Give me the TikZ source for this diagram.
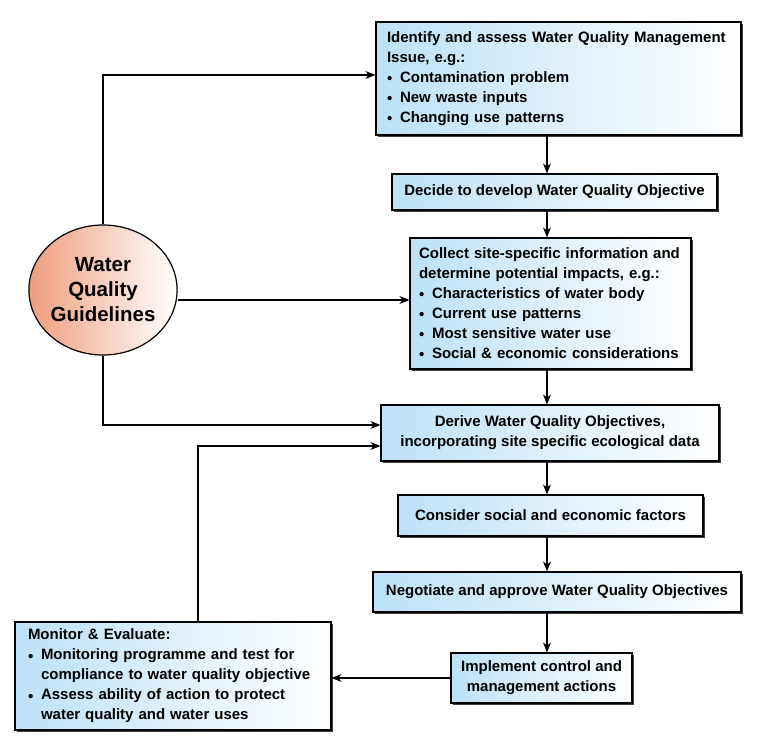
\documentclass[tikz,border=0pt]{standalone}
\usepackage{fontspec}
\setmainfont{Liberation Sans}
\usetikzlibrary{arrows.meta, shapes.geometric, shadows, calc}
\definecolor{boxblue}{RGB}{188,225,248}
\definecolor{salmon}{RGB}{238,158,126}
\newcommand{\wqfont}{\fontsize{15}{20}\selectfont\bfseries\hyphenpenalty=10000\relax}
\newcommand{\wqbul}{\makebox[13pt][l]{\raisebox{-1.5pt}{\textbullet}}}
\newcommand{\wqind}{\hspace*{13pt}}

\begin{document}
\begin{tikzpicture}[x=1pt, y=-1pt, >={Stealth[length=10pt,width=8pt]}, line width=1.1pt,
  sq node/.style={rectangle, draw, line width=1.2pt, left color=boxblue, right color=white,
    drop shadow={shadow xshift=2pt, shadow yshift=-2pt, fill=black!75, opacity=1},
    font=\wqfont, inner ysep=0pt},
  list node/.style={sq node, align=left},
  mid node/.style={sq node, align=center, inner xsep=0pt},
  main node/.style={ellipse, draw, line width=1.2pt, left color=salmon, right color=white,
    align=center, inner sep=0pt, font=\fontsize{20.5}{25}\selectfont\bfseries}]
  \useasboundingbox (0,0) rectangle (757,738);
  % boxes of the chain
  \node[list node, inner xsep=11pt, text width=343pt, minimum height=113pt] (identify) at (558.5,78.5)
    {Identify and assess Water Quality Management\\ Issue, e.g.:\\
     \wqbul Contamination problem\\
     \wqbul New waste inputs\\
     \wqbul Changing use patterns};
  \node[mid node, minimum width=325pt, minimum height=36pt] (decide) at (554.5,192)
    {Decide to develop Water Quality Objective};
  \node[list node, inner xsep=9pt, text width=263pt, minimum height=131pt] (collect) at (550.5,303.5)
    {Collect site-specific information and\\ determine potential impacts, e.g.:\\
     \wqbul Characteristics of water body\\
     \wqbul Current use patterns\\
     \wqbul Most sensitive water use\\
     \wqbul Social \& economic considerations};
  \node[mid node, minimum width=338pt, minimum height=56pt] (derive) at (550,433)
    {Derive Water Quality Objectives,\\ incorporating site specific ecological data};
  \node[mid node, minimum width=305pt, minimum height=41pt] (consider) at (550.5,515.5)
    {Consider social and economic factors};
  \node[mid node, minimum width=368pt, minimum height=40pt] (negotiate) at (557,592)
    {Negotiate and approve Water Quality Objectives};
  \node[mid node, minimum width=181pt, minimum height=50pt] (implement) at (541.5,678)
    {Implement control and\\ management actions};
  \node[list node, inner xsep=13pt, text width=290pt, minimum height=108pt] (monitor) at (173,676)
    {Monitor \& Evaluate:\\
     \wqbul Monitoring programme and test for\\
     \wqind compliance to water quality objective\\
     \wqbul Assess ability of action to protect\\
     \wqind water quality and water uses};
  % guidelines
  \node[main node, minimum width=143pt, minimum height=130pt] (wqg) at (103,290)
    {Water\\ Quality\\ Guidelines};

  \coordinate (ax) at (547,0);
  \foreach \a/\b in {identify/decide, decide/collect, collect/derive, derive/consider,
    consider/negotiate, negotiate/implement}
    \draw[->] (\a.south -| ax) -- (\b.north -| ax);
  \draw[->] (wqg.north) |- ([yshift=3.5pt]identify.west);
  \draw[->] ([yshift=-10pt]wqg.east) -- ([yshift=-10pt]wqg.east -| collect.west);
  \draw[->] (wqg.south) |- ([yshift=8pt]derive.west);
  \draw[->] ([xshift=25pt]monitor.north) |- ([yshift=-13pt]derive.west);
  \draw[->] (implement.west) -- (implement.west -| monitor.east);
\end{tikzpicture}
\end{document}
